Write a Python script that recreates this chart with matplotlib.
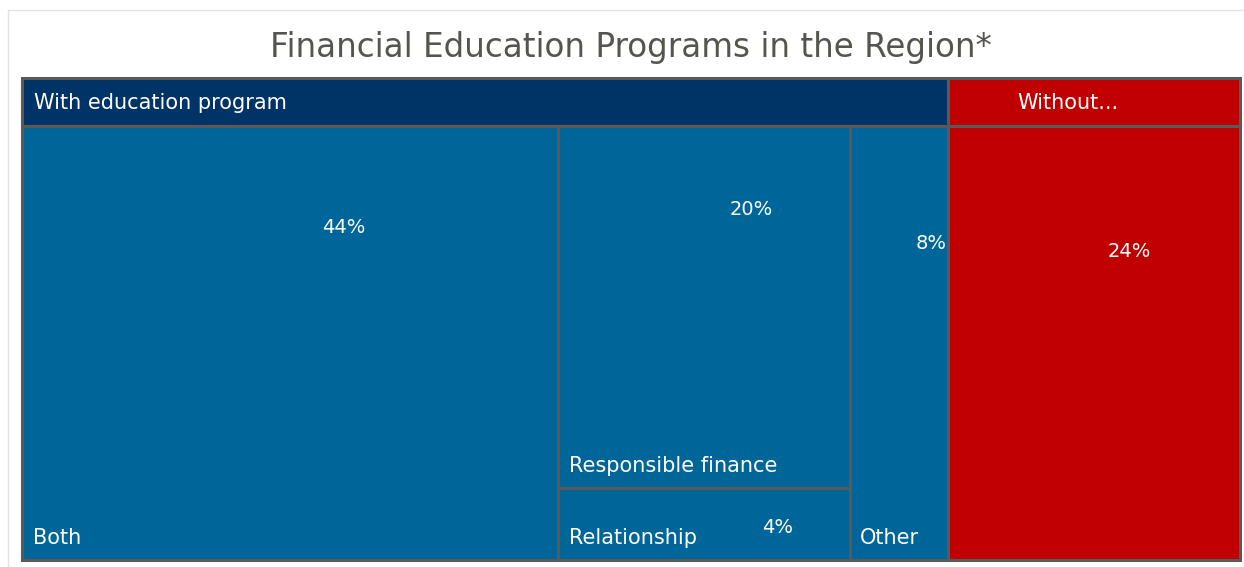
import matplotlib.pyplot as plt
from matplotlib.patches import Rectangle

# data
groups = ['With education program', 'Without...']
group_colors = ['#003366', '#C00000']
labels = ['Both', 'Responsible finance', 'Relationship', 'Other', 'Without']
values = [44, 20, 4, 8, 24]
pct_labels = ['44%', '20%', '4%', '8%', '24%']

EDGE = '#595959'
CELL = '#006699'

fig = plt.figure(figsize=(12.44, 5.67), dpi=100)
ax = fig.add_axes([0, 0, 1, 1])
ax.set_xlim(0, 1244)
ax.set_ylim(567, 0)
ax.axis('off')

# faint outer frame
ax.add_patch(Rectangle((8, 10), 1240, 560, fill=False, ec='#e3e3e3', lw=1))

ax.text(631, 47, 'Financial Education Programs in the Region*', ha='center', va='center',
        fontsize=23.5, color='#55554f')

x0, x1 = 22, 1240
top, head, bot = 78, 126, 560
W = x1 - x0
total = sum(values)
lw = 2.2

def box(x, y, w, h, c):
    ax.add_patch(Rectangle((x, y), w, h, fc=c, ec=EDGE, lw=lw))

fs = 15
pfs = 14

# group headers
w_with = W * sum(values[:4]) / total
box(x0, top, w_with, head - top, group_colors[0])
box(x0 + w_with, top, W - w_with, head - top, group_colors[1])
ax.text(x0 + 12, (top + head) / 2 + 1, groups[0], color='white', fontsize=fs, va='center')
ax.text(x0 + w_with + (W - w_with) * 0.41, (top + head) / 2 + 1, groups[1], color='white',
        fontsize=fs, va='center', ha='center')

H = bot - head
# Both
wb = W * values[0] / total
box(x0, head, wb, H, CELL)
ax.text(x0 + 11, bot - 22, labels[0], color='white', fontsize=fs, va='center')
ax.text(x0 + wb * 0.6, head + 0.235 * H, pct_labels[0], color='white', fontsize=pfs,
        va='center', ha='center')

# Responsible finance / Relationship
xr = x0 + wb
wr = W * (values[1] + values[2]) / total
hr = H * values[1] / (values[1] + values[2])
box(xr, head, wr, hr, CELL)
box(xr, head + hr, wr, H - hr, CELL)
ax.text(xr + 11, head + hr - 22, labels[1], color='white', fontsize=fs, va='center')
ax.text(xr + wr * 0.66, head + 0.23 * hr, pct_labels[1], color='white', fontsize=pfs,
        va='center', ha='center')
ax.text(xr + 11, bot - 22, labels[2], color='white', fontsize=fs, va='center')
ax.text(xr + wr * 0.75, head + hr + 0.55 * (H - hr), pct_labels[2], color='white',
        fontsize=pfs, va='center', ha='center')

# Other
xo = xr + wr
wo = W * values[3] / total
box(xo, head, wo, H, CELL)
ax.text(xo + 10, bot - 22, labels[3], color='white', fontsize=fs, va='center')
ax.text(xo + wo - 1, head + 0.27 * H, pct_labels[3], color='white', fontsize=pfs,
        va='center', ha='right')

# Without
xw = xo + wo
ww = x1 - xw
box(xw, head, ww, H, group_colors[1])
ax.text(xw + ww * 0.62, head + 0.29 * H, pct_labels[4], color='white', fontsize=pfs,
        va='center', ha='center')

fig.savefig('out.png', dpi=100)
